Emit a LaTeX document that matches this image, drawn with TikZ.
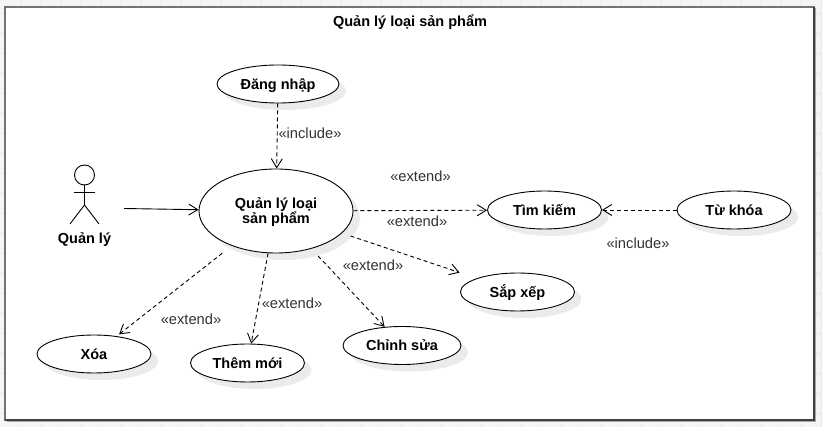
\documentclass[tikz,border=0pt]{standalone}
\usepackage{fontspec}
\setmainfont{Liberation Sans}
\usetikzlibrary{arrows.meta,shadows,shapes.geometric}
\newcommand{\stereo}[1]{\guillemotleft #1\guillemotright}
\begin{document}
\begin{tikzpicture}
    [
    x=1pt,y=-1pt,
    usecase/.style = {draw,ellipse,fill=white,line width=0.9pt,inner sep=0pt,text height=14pt,text depth=3pt,font=\fontsize{14.5}{15}\selectfont\bfseries,align=center,drop shadow={shadow xshift=7pt,shadow yshift=-7pt,fill=black!8,opacity=1}},
    stereotype/.style = {text=black!80,font=\fontsize{14.7}{15}\selectfont,inner sep=0pt},
    dep/.style = {dashed,line width=0.9pt,dash pattern=on 4pt off 3pt,-{Straight Barb[length=9pt,width=11pt]}},
    assoc/.style = {line width=0.9pt,-{Straight Barb[length=9pt,width=11pt]}},
    limb/.style = {line width=0.9pt}
    ]
\useasboundingbox (0,0) rectangle (822,427);
\fill[black!4] (0,0) rectangle (822,427);
\foreach \gx in {21,41,...,821} \draw[black!9,line width=0.7pt] (\gx,0) -- (\gx,427);
\foreach \gy in {13,33,...,413} \draw[black!9,line width=0.7pt] (0,\gy) -- (822,\gy);

% system frame
\fill[black!35] (6.5,8.5) rectangle (816,422);
\draw[black!55,fill=white,line width=1.3pt] (5,7) rectangle (814,420);
\draw[black!75,line width=1.3pt] (814,7) -- (814,420) -- (5,420);
\node[font=\fontsize{14.5}{15}\selectfont\bfseries,inner sep=0pt,text height=14pt,text depth=3pt] (title) at (410,21) {Quản lý loại sản phẩm};

% actor
\node[draw,circle,minimum size=20pt,inner sep=0pt,line width=0.9pt] (head) at (84.5,175) {};
\coordinate (hip) at (84.5,205);
\draw[limb] (head) -- (hip);
\draw[limb] (74,192) -- (95,192);
\draw[limb] (hip) -- (70,224);
\draw[limb] (hip) -- (99,224);
\node[font=\fontsize{14.5}{15}\selectfont\bfseries,inner sep=0pt,text height=14pt,text depth=3pt] (actor) at (84.5,238) {Quản lý};

% use cases
\node[usecase,minimum width=122pt,minimum height=38pt] (login) at (278,84) {Đăng nhập};
\node[usecase,minimum width=154pt,minimum height=84pt,text height=29pt,text depth=3pt] (main) at (276,211) {Quản lý loại\\sản phẩm};
\node[usecase,minimum width=114pt,minimum height=38pt] (search) at (544.5,210) {Tìm kiếm};
\node[usecase,minimum width=114pt,minimum height=38pt] (keyword) at (734,210) {Từ khóa};
\node[usecase,minimum width=114pt,minimum height=38pt] (sort) at (517.5,292) {Sắp xếp};
\node[usecase,minimum width=118pt,minimum height=38pt] (edit) at (402,345.5) {Chỉnh sửa};
\node[usecase,minimum width=114pt,minimum height=38pt] (del) at (94,354) {Xóa};
\node[usecase,minimum width=114pt,minimum height=38pt] (add) at (247.5,363) {Thêm mới};

% connectors
\coordinate (actorend) at (124,208.5);
\draw[assoc] (actorend) -- (main);
\draw[dep] (login) -- (main);
\draw[dep] (main) -- (search);
\draw[dep] (keyword) -- (search);
\draw[dep,shorten <=9pt,shorten >=18pt] (main) -- (sort);
\draw[dep,shorten <=10pt] (main) -- (edit);
\draw[dep] (main) -- (add);
\draw[dep,shorten <=12pt,shorten >=3pt] (main) -- (del);

% stereotypes
\node[stereotype] (incl1) at (310,133.5) {\stereo{include}};
\node[stereotype] (ext1) at (420.5,176) {\stereo{extend}};
\node[stereotype] (ext2) at (417,221) {\stereo{extend}};
\node[stereotype] (incl2) at (638,243) {\stereo{include}};
\node[stereotype] (ext3) at (373,265) {\stereo{extend}};
\node[stereotype] (ext4) at (292,303) {\stereo{extend}};
\node[stereotype] (ext5) at (191,319) {\stereo{extend}};
\end{tikzpicture}
\end{document}
